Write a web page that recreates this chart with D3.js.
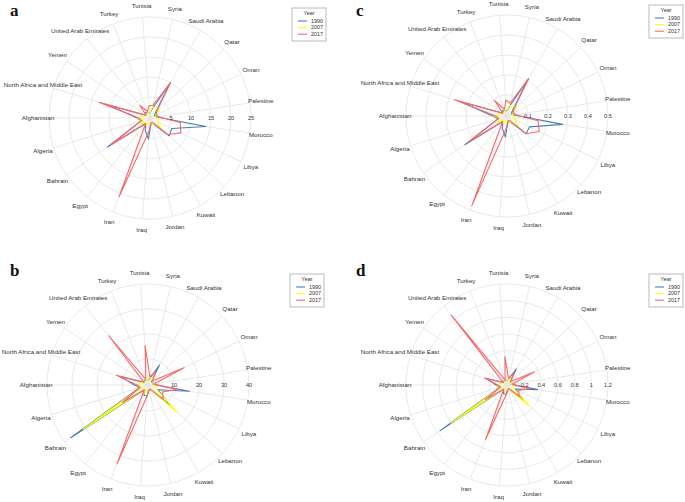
<!DOCTYPE html>
<html>
<head>
<meta charset="utf-8">
<script src="https://d3js.org/d3.v7.min.js"></script>
<style>
  body { margin: 0; background: #fff; }
  text { font-family: "Liberation Sans", Arial, sans-serif; }
</style>
</head>
<body>
<script>
// categories, clockwise from the top
const countries = ["Tunisia", "Syria", "Saudi Arabia", "Qatar", "Oman", "Palestine", "Morocco",
  "Libya", "Lebanon", "Kuwait", "Jordan", "Iraq", "Iran", "Egypt", "Bahrain", "Algeria",
  "Afghanistan", "North Africa and Middle East", "Yemen", "United Arab Emirates", "Turkey"];
const years = ["1990", "2007", "2017"];
const colors = ["#4a80b4", "#ffff00", "#f8696b"];

// panel a
const a1990 = [1, 2, 10, 1.5, 1, 1.5, 13.9, 5.8, 6.3, 1.5, 1, 5, 3, 1.5, 12.6, 2, 3, 10.5, 1, 1.5, 1];
const a2007 = [1, 2.5, 2.5, 3, 1.5, 1, 2, 2, 3.5, 1.5, 1, 1.5, 1.5, 1, 2.5, 1.5, 3, 1.5, 1, 1, 1];
const a2017 = [2.8, 3, 10, 2, 1.5, 2, 7.4, 8.3, 5.8, 1, 1, 3, 20.9, 1.5, 11.5, 2, 2.5, 13, 1, 3.8, 1.5];
const aTicks = [5, 10, 15, 20, 25];

// panel b
const b1990 = [1.5, 2, 8.8, 1.5, 2, 1.5, 16.4, 4, 11.9, 2, 1.5, 4, 4, 2, 37, 3, 5.1, 11, 1.5, 2, 1.5];
const b2007 = [1.5, 2.5, 3, 2, 2, 1.5, 3, 3, 15.4, 2, 1.5, 2, 3, 1.5, 31, 2, 4, 3, 1.5, 1.5, 1.5];
const b2017 = [15.4, 3, 6, 2, 15.6, 2, 11.4, 6, 8, 1.5, 1.5, 4, 33.4, 2, 12, 3, 4, 12.8, 1.5, 24.8, 2];
const bTicks = [10, 20, 30, 40];

// panel c
const c1990 = [0.02, 0.04, 0.21, 0.03, 0.02, 0.03, 0.277, 0.12, 0.125, 0.03, 0.02, 0.1, 0.06, 0.03, 0.25, 0.04, 0.067, 0.24, 0.02, 0.03, 0.02];
const c2007 = [0.02, 0.05, 0.05, 0.06, 0.03, 0.02, 0.04, 0.04, 0.07, 0.03, 0.02, 0.03, 0.03, 0.02, 0.05, 0.03, 0.06, 0.03, 0.02, 0.02, 0.02];
const c2017 = [0.075, 0.06, 0.21, 0.04, 0.03, 0.04, 0.152, 0.174, 0.125, 0.02, 0.02, 0.06, 0.475, 0.03, 0.23, 0.04, 0.05, 0.27, 0.02, 0.095, 0.03];
const cTicks = [0.1, 0.2, 0.3, 0.4, 0.5];

// panel d
const d1990 = [0.04, 0.06, 0.21, 0.04, 0.05, 0.04, 0.36, 0.1, 0.26, 0.05, 0.04, 0.1, 0.1, 0.05, 0.96, 0.07, 0.12, 0.24, 0.04, 0.05, 0.04];
const d2007 = [0.04, 0.06, 0.07, 0.05, 0.05, 0.04, 0.07, 0.07, 0.36, 0.05, 0.04, 0.05, 0.07, 0.04, 0.8, 0.05, 0.1, 0.07, 0.04, 0.04, 0.04];
const d2017 = [0.33, 0.07, 0.15, 0.05, 0.35, 0.05, 0.27, 0.14, 0.19, 0.04, 0.04, 0.1, 0.69, 0.05, 0.3, 0.07, 0.1, 0.27, 0.04, 1.06, 0.05];
const dTicks = [0.2, 0.4, 0.6, 0.8, 1, 1.2];

const panels = [
  {id: "a", cx: 150, cy: 118, series: [a1990, a2007, a2017], ticks: aTicks, letter: [10, 16], legend: [292, 8]},
  {id: "b", cx: 148, cy: 385, series: [b1990, b2007, b2017], ticks: bTicks, letter: [10, 276], legend: [290, 274]},
  {id: "c", cx: 507, cy: 116, series: [c1990, c2007, c2017], ticks: cTicks, letter: [356, 16], legend: [649, 5]},
  {id: "d", cx: 507, cy: 385, series: [d1990, d2007, d2017], ticks: dTicks, letter: [356, 276], legend: [649, 274]}
];

const W = 685, H = 502;
const svg = d3.select("body").append("svg").attr("width", W).attr("height", H);

const step = 2 * Math.PI / countries.length;
const angle = d3.scalePoint().domain(countries)
  .range([-step / 4, -step / 4 + step * (countries.length - 1)]);

const rMax = 101, rLabel = 112;

panels.forEach(p => {
  const g = svg.append("g").attr("transform", `translate(${p.cx},${p.cy})`);
  const maxTick = p.ticks[p.ticks.length - 1];
  const r = d3.scaleLinear().domain([0, maxTick]).range([1, rMax]);

  // rings
  g.selectAll(".ring").data(p.ticks).enter().append("circle")
    .attr("r", d => r(d))
    .attr("fill", "none").attr("stroke", "#e3e3e3").attr("stroke-width", 0.8);

  // spokes
  g.selectAll(".spoke").data(countries).enter().append("line")
    .attr("x1", 0).attr("y1", 0)
    .attr("x2", d => rMax * Math.sin(angle(d)))
    .attr("y2", d => -rMax * Math.cos(angle(d)))
    .attr("stroke", "#e3e3e3").attr("stroke-width", 0.8);

  // lines
  const line = d3.lineRadial()
    .angle((d, i) => angle(countries[i]))
    .radius(d => r(d))
    .curve(d3.curveLinearClosed);
  p.series.forEach((s, k) => {
    g.append("path").attr("d", line(s))
      .attr("fill", "none").attr("stroke", colors[k]).attr("stroke-width", 1.1)
      .attr("stroke-linejoin", "round");
  });

  // radial tick labels along the horizontal
  g.selectAll(".tick").data(p.ticks).enter().append("text")
    .attr("x", d => r(d)).attr("y", 0).attr("dy", "0.35em")
    .attr("text-anchor", "middle").attr("font-size", 5.6).attr("fill", "#333")
    .text(d => d);

  // category labels, centred on a circle outside the grid
  g.selectAll(".cat").data(countries).enter().append("text")
    .attr("x", d => rLabel * Math.sin(angle(d)))
    .attr("y", d => -rLabel * Math.cos(angle(d)))
    .attr("dy", "0.35em").attr("text-anchor", "middle")
    .attr("font-size", 6.2).attr("fill", "#333")
    .text(d => d);

  // panel letter
  svg.append("text").attr("x", p.letter[0]).attr("y", p.letter[1])
    .style("font-family", "'Liberation Serif', 'DejaVu Serif', serif").attr("font-weight", "bold")
    .attr("font-size", 17).attr("fill", "#111").text(p.id);

  // legend
  const lg = svg.append("g").attr("transform", `translate(${p.legend[0]},${p.legend[1]})`);
  lg.append("rect").attr("width", 34).attr("height", 33)
    .attr("fill", "#fff").attr("stroke", "#aaa").attr("stroke-width", 0.8);
  lg.append("text").attr("x", 17).attr("y", 7).attr("text-anchor", "middle")
    .attr("font-size", 5.4).attr("fill", "#333").text("Year");
  years.forEach((y, k) => {
    lg.append("line").attr("x1", 6).attr("x2", 15)
      .attr("y1", 13 + k * 6.6).attr("y2", 13 + k * 6.6)
      .attr("stroke", colors[k]).attr("stroke-width", 1.1);
    lg.append("text").attr("x", 19).attr("y", 13 + k * 6.6).attr("dy", "0.35em")
      .attr("font-size", 5.4).attr("fill", "#333").text(y);
  });
});
</script>
</body>
</html>
